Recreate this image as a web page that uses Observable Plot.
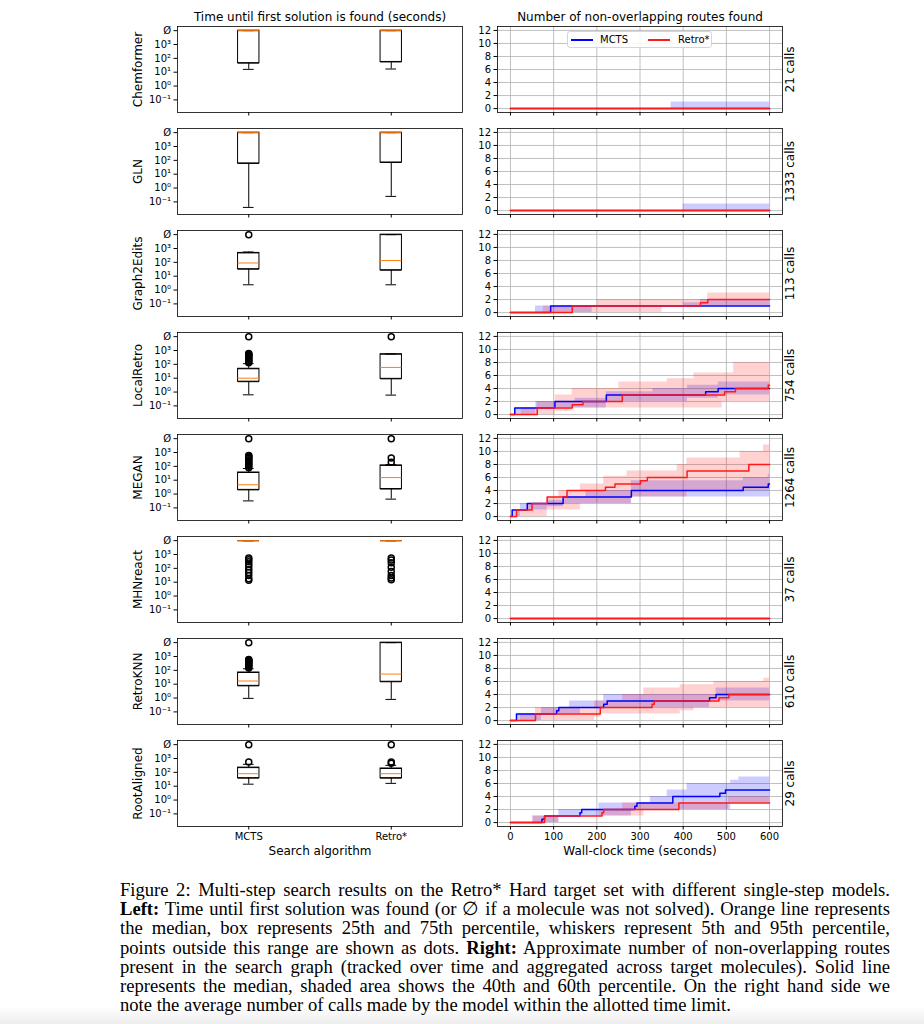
<!DOCTYPE html>
<html><head><meta charset="utf-8">
<script src="https://cdn.jsdelivr.net/npm/d3@7"></script>
<script src="https://cdn.jsdelivr.net/npm/@observablehq/plot@0.6"></script>
<style>
body{margin:0;background:#fff;}
#fig{position:relative;width:924px;height:1024px;overflow:hidden;background:#fff;font-family:"DejaVu Sans",sans-serif;}
#fig svg{position:absolute;}
#legend{position:absolute;left:567px;top:31px;width:145px;height:17px;border:1px solid #d6d6d6;border-radius:3px;background:rgba(255,255,255,0.85);font:10px "DejaVu Sans",sans-serif;color:#000;z-index:5;box-sizing:border-box;}
#legend .ln{position:absolute;top:7px;width:22px;height:1.5px;}
#legend .tx{position:absolute;top:1px;line-height:13px;}
#caption{position:absolute;left:120px;top:880px;width:770px;font-family:"Liberation Serif","Times New Roman",serif;font-size:18.6px;line-height:19.2px;color:#000;}
#caption .cl{display:inline-block;white-space:nowrap;}
#shade{position:absolute;left:0;top:1006px;width:924px;height:18px;background:linear-gradient(to bottom,rgba(0,0,0,0),rgba(0,0,0,0.07));}
</style></head>
<body><div id="fig"></div>
<script>
// ---------------- data ----------------
const NOSOL = 1e4; // "Ø": molecule not solved
const MODELS = ["Chemformer","GLN","Graph2Edits","LocalRetro","MEGAN","MHNreact","RetroKNN","RootAligned"];
const ALGOS = ["MCTS","Retro*"];
const CALLS = [21,1333,113,754,1264,37,610,29];
const LOG_TICKS = [0.1,1,10,100,1000,NOSOL];
const TIME_TICKS = [0,100,200,300,400,500,600];
const ROUTE_TICKS = [0,2,4,6,8,10,12];

// Box-plot statistics (seconds), per model: [MCTS, Retro*]
const WHISKER_LO = [[16,17],[0.04,0.25],[2.4,2.4],[0.63,0.6],[0.32,0.43],[NOSOL,NOSOL],[0.95,0.8],[14,16]];
const Q1         = [[45,55],[60,70],[32,27],[5.6,9],[2,2.3],[NOSOL,NOSOL],[7.6,15],[38,38]];
const MEDIAN     = [[NOSOL,NOSOL],[NOSOL,NOSOL],[90,135],[10,60],[4.7,15.5],[NOSOL,NOSOL],[17,54],[80,80]];
const Q3         = [[NOSOL,NOSOL],[NOSOL,NOSOL],[480,NOSOL],[48,540],[36,117],[NOSOL,NOSOL],[70,NOSOL],[220,190]];
const WHISKER_HI = [[NOSOL,NOSOL],[NOSOL,NOSOL],[560,NOSOL],[112,560],[70,135],[NOSOL,NOSOL],[130,NOSOL],[380,320]];
const OUTLIERS = [
  [[],[]],
  [[],[]],
  [[NOSOL],[]],
  [[NOSOL,130,160,190,230,270,320,380,440,500,560,600],[NOSOL]],
  [[NOSOL,80,100,130,160,200,250,300,380,450,550,600],[NOSOL,200,400]],
  [[550,420,300,200,130,80,50,30,18,14],[550,400,250,120,60,30,20,15]],
  [[NOSOL,150,180,220,260,300,350,400,450,500,550,600],[]],
  [[NOSOL,560],[NOSOL,460,560]]
];

// Routes over time: [t (s), 40th pct, median, 60th pct], step-after
const ROUTES_MCTS = [
  [[0,0,0,0],[372,0,0,1],[600,0,0,1]],
  [[0,0,0,0],[400,0,0,1],[600,0,0,1]],
  [[0,0,0,0],[58,0,0,1],[93,0,1,1],[189,1,1,1],[401,1,1,1.5],[440,1,1,2],[600,1,1,2]],
  [[0,0,0,0],[10,0,1,1],[59,1,1,2],[103,1,2,2],[150,1,2,2.5],[222,2,3,3.5],[330,2,3,4],[410,2.5,3,4.5],[452,2.5,3.5,4.5],[481,3,4,5],[600,3,4,5]],
  [[0,0,0,0],[4,0,1,1],[23,1,1,2],[39,1,2,2],[85,1.5,2,2.5],[122,2,3,3],[175,2,3,4],[280,3,4,5.5],[539,3,4.5,6],[597,3,5,6.5],[600,3,5,6.5]],
  [[0,0,0,0],[600,0,0,0]],
  [[0,0,0,0],[14,0,1,1],[72,1,1,2],[107,1,1.5,2],[112,1,2,2],[137,1,2,3],[162,2,2,3],[216,2,2.5,4],[224,2,3,4],[461,3,3.5,4],[476,3,4,5],[600,3,4,5]],
  [[0,0,0,0],[52,0,0,1],[73,0,0.5,1],[79,0,1,1],[112,1,1,2],[161,1,1.5,2],[165,1,2,2],[205,1,2,3],[280,2,2,3],[288,2,2.5,3],[293,2,3,3],[324,2,3,4],[363,2,3,5],[376,2,4,5],[409,2,4,6],[485,2,4.5,6],[498,2,5,6],[510,3,5,6.5],[529,3,5,7],[600,3,5,7]]
];
const ROUTES_RETRO = [
  [[0,0,0,0],[600,0,0,0]],
  [[0,0,0,0],[600,0,0,0]],
  [[0,0,0,0],[76,0,0,1],[143,0,1,1],[201,0,1,2],[351,1,1,2],[440,1,1.5,2],[457,1,2,3],[600,1,2,3]],
  [[0,0,0,0],[25,0,0,1],[62,0,1,2],[104,0.5,1,3],[143,1,1.5,4],[168,1,2,4],[251,1,2,5],[259,1,3,5],[363,1,3,5.5],[425,1,3,6.4],[490,2,3,6.4],[496,2,3.5,6.4],[517,2,3.5,8],[521,2,4,8],[597,2,4.5,8],[600,2,4.5,8]],
  [[0,0,0,0],[14,0,1,1],[39,0,1,2],[50,0,2,2],[85,1,3,3],[112,1,3,4],[131,1,4,4],[162,2,4,5],[216,2,4,6.2],[220,2,4.5,6.2],[242,2,5,6.2],[270,2,5,7],[280,3,5,7],[301,3,5.5,7],[317,3,6,7],[386,3,6,8],[409,4,7,9],[532,4,7,10],[552,4,8,10],[586,4,8,11],[600,4,8,11]],
  [[0,0,0,0],[600,0,0,0]],
  [[0,0,0,0],[23,0,0,1],[58,0,1,2],[195,0.5,1,3],[208,1,2,3],[260,1,2,4],[309,1,2,5],[328,1,2.5,5],[333,1,3,5],[393,1.5,3,5.5],[425,2,3,5.5],[471,2,3,6],[483,2,3.5,6],[506,2,4,6],[587,2,4,6.5],[600,2,4,6.5]],
  [[0,0,0,0],[52,0,0,1],[79,0,1,1],[112,1,1,1],[205,1,1,2],[212,1,1.5,2],[216,1,2,2],[260,1,2,3],[309,2,2,3],[390,2,3,3],[505,3,3,4],[600,3,3,4]]
];
const ROUTE_SERIES = [ROUTES_MCTS, ROUTES_RETRO];
const SERIES_COLORS = ["#0000ff","#ff1a1a"];

const LEFT_TITLE = "Time until first solution is found (seconds)";
const RIGHT_TITLE = "Number of non-overlapping routes found";
const LEFT_XLABEL = "Search algorithm";
const RIGHT_XLABEL = "Wall-clock time (seconds)";

// ---------------- layout ----------------
const fig = document.getElementById("fig");
const FRAME_TOP0 = 26, ROW_STEP = 102, FRAME_H = 86, N = MODELS.length;
const BOX_W = 0.15;
const SUP = {"-":"\u207B","0":"\u2070","1":"\u00B9","2":"\u00B2","3":"\u00B3","4":"\u2074"};
const logFmt = d => d === NOSOL ? "Ø" : "10" + String(Math.round(Math.log10(d))).split("").map(c => SUP[c]).join("");
const font = {fontFamily: "DejaVu Sans", fontSize: "10px", color: "#000", background: "white", overflow: "visible"};
const label = (txt, opts) => Plot.text([txt], {text: d => d, fontSize: 12, fill: "#000", textAnchor: "middle", lineAnchor: "middle", ...opts});

function geom(i) {
  const mt = i === 0 ? 26 : 6;
  const mb = i === N - 1 ? 42 : 10;
  const top = FRAME_TOP0 + ROW_STEP * i - mt;
  return {mt, mb, top, height: mt + FRAME_H + mb};
}
function place(svg, left, top) {
  svg.style.position = "absolute";
  svg.style.left = left + "px";
  svg.style.top = top + "px";
  fig.appendChild(svg);
}

function leftPanel(i) {
  const g = geom(i), last = i === N - 1;
  const boxes = ALGOS.map((a, j) => ({pos: j + 1, wl: WHISKER_LO[i][j], q1: Q1[i][j], med: MEDIAN[i][j], q3: Q3[i][j], wh: WHISKER_HI[i][j]}));
  const outs = ALGOS.flatMap((a, j) => OUTLIERS[i][j].map(v => ({pos: j + 1, v})));
  const hw = BOX_W / 2, cw = BOX_W / 4;
  const marks = [
    Plot.ruleX(boxes, {x: "pos", y1: "wl", y2: "q1", stroke: "#000", strokeWidth: 1}),
    Plot.ruleX(boxes, {x: "pos", y1: "q3", y2: "wh", stroke: "#000", strokeWidth: 1}),
    Plot.ruleY(boxes, {y: "wl", x1: d => d.pos - cw, x2: d => d.pos + cw, stroke: "#000", strokeWidth: 1}),
    Plot.ruleY(boxes, {y: "wh", x1: d => d.pos - cw, x2: d => d.pos + cw, stroke: "#000", strokeWidth: 1}),
    Plot.rect(boxes, {x1: d => d.pos - hw, x2: d => d.pos + hw, y1: "q1", y2: "q3", fill: "none", stroke: "#000", strokeWidth: 1}),
    Plot.ruleY(boxes, {y: "q1", x1: d => d.pos - hw, x2: d => d.pos + hw, stroke: "#000", strokeWidth: 1}),
    Plot.ruleY(boxes, {y: "q3", x1: d => d.pos - hw, x2: d => d.pos + hw, stroke: "#000", strokeWidth: 1}),
    Plot.ruleY(boxes, {y: "med", x1: d => d.pos - hw, x2: d => d.pos + hw, stroke: "#ff7f0e", strokeWidth: 1}),
    Plot.dot(outs, {x: "pos", y: "v", r: 3, stroke: "#000", strokeWidth: 1.5, fill: "none"}),
    Plot.frame({stroke: "#000", strokeWidth: 0.8}),
    label(MODELS[i], {frameAnchor: "left", dx: -39, rotate: -90})
  ];
  if (i === 0) marks.push(label(LEFT_TITLE, {frameAnchor: "top", dy: -9.5}));
  if (last) marks.push(label(LEFT_XLABEL, {frameAnchor: "bottom", dy: 25}));
  const svg = Plot.plot({
    width: 370, height: g.height,
    marginLeft: 77, marginRight: 8, marginTop: g.mt, marginBottom: g.mb,
    style: font,
    x: {type: "linear", domain: [0.5, 2.5], ticks: [1, 2], tickFormat: last ? (d => ALGOS[d - 1]) : (() => ""), tickSize: 3.5, tickPadding: 3, label: null},
    y: {type: "log", domain: [Math.pow(10, -1.91), Math.pow(10, 4.3)], ticks: LOG_TICKS, tickFormat: logFmt, tickSize: 3.5, tickPadding: 3, label: null},
    marks
  });
  place(svg, 100, g.top);
}

function rightPanel(i) {
  const g = geom(i), last = i === N - 1;
  const marks = [
    Plot.ruleX(TIME_TICKS, {stroke: "#b0b0b0", strokeWidth: 0.8}),
    Plot.ruleY(ROUTE_TICKS, {stroke: "#b0b0b0", strokeWidth: 0.8})
  ];
  ROUTE_SERIES.forEach((S, k) => {
    marks.push(Plot.areaY(S[i], {x: d => d[0], y1: d => d[1], y2: d => d[3], curve: "step-after", fill: SERIES_COLORS[k], fillOpacity: 0.2}));
  });
  ROUTE_SERIES.forEach((S, k) => {
    marks.push(Plot.lineY(S[i], {x: d => d[0], y: d => d[2], curve: "step-after", stroke: SERIES_COLORS[k], strokeWidth: 1.5}));
  });
  marks.push(Plot.frame({stroke: "#000", strokeWidth: 0.8}));
  marks.push(label(CALLS[i] + " calls", {frameAnchor: "right", dx: 8, rotate: -90}));
  if (i === 0) marks.push(label(RIGHT_TITLE, {frameAnchor: "top", dy: -9.5}));
  if (last) marks.push(label(RIGHT_XLABEL, {frameAnchor: "bottom", dy: 25}));
  const svg = Plot.plot({
    width: 360, height: g.height,
    marginLeft: 27, marginRight: 48, marginTop: g.mt, marginBottom: g.mb,
    style: font,
    x: {type: "linear", domain: [-30, 630], ticks: TIME_TICKS, tickFormat: last ? (d => String(d)) : (() => ""), tickSize: 3.5, tickPadding: 3, label: null},
    y: {type: "linear", domain: [-0.6, 12.6], ticks: ROUTE_TICKS, tickFormat: d => String(d), tickSize: 3.5, tickPadding: 3, label: null},
    marks
  });
  place(svg, 470, g.top);
}

for (let i = 0; i < N; i++) { leftPanel(i); rightPanel(i); }

// legend (first right panel)
const lg = document.createElement("div");
lg.id = "legend";
lg.innerHTML =
  `<div class="ln" style="left:3px;background:${SERIES_COLORS[0]}"></div><div class="tx" style="left:32px">${ALGOS[0]}</div>` +
  `<div class="ln" style="left:80px;background:${SERIES_COLORS[1]}"></div><div class="tx" style="left:110px">${ALGOS[1]}</div>`;
fig.appendChild(lg);

// caption
const CAPTION_LINES = [
  "Figure 2: Multi-step search results on the Retro* Hard target set with different single-step models.",
  "<b>Left:</b> Time until first solution was found (or \u2205 if a molecule was not solved). Orange line represents",
  "the median, box represents 25th and 75th percentile, whiskers represent 5th and 95th percentile,",
  "points outside this range are shown as dots. <b>Right:</b> Approximate number of non-overlapping routes",
  "present in the search graph (tracked over time and aggregated across target molecules). Solid line",
  "represents the median, shaded area shows the 40th and 60th percentile. On the right hand side we",
  "note the average number of calls made by the model within the allotted time limit."
];
const cap = document.createElement("div");
cap.id = "caption";
cap.innerHTML = CAPTION_LINES.map(l => `<div><span class="cl">${l}</span></div>`).join("");
fig.appendChild(cap);
const CAP_W = 770;
cap.querySelectorAll(".cl").forEach((el, k) => {
  if (k === CAPTION_LINES.length - 1) return;
  const w = el.getBoundingClientRect().width;
  const n = (el.textContent.match(/ /g) || []).length;
  if (n > 0) el.style.wordSpacing = ((CAP_W - w) / n) + "px";
});
const sh = document.createElement("div");
sh.id = "shade";
fig.appendChild(sh);
</script>
</body></html>
